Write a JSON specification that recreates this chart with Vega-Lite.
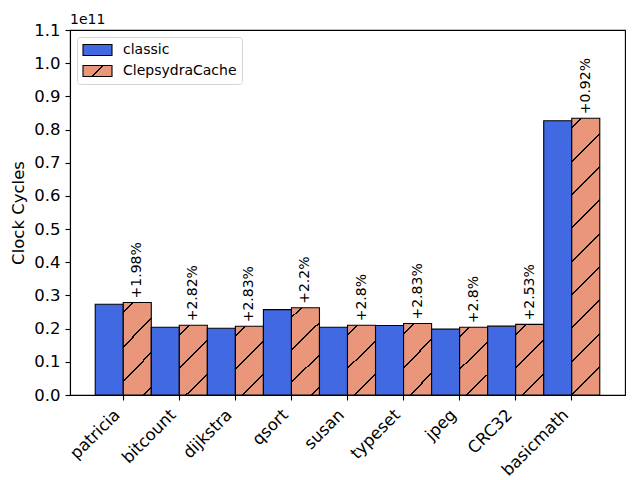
{
  "$schema": "https://vega.github.io/schema/vega-lite/v6.json",
  "width": 555,
  "height": 365,
  "autosize": {"type": "none"},
  "padding": {"left": 70, "top": 30, "right": 15, "bottom": 85},
  "background": "white",
  "config": {
    "font": "DejaVu Sans",
    "view": {"stroke": "black", "strokeWidth": 1.1},
    "axis": {
      "grid": false,
      "domainColor": "black",
      "domainWidth": 1.1,
      "tickColor": "black",
      "tickWidth": 1.1,
      "tickSize": 5,
      "labelColor": "black",
      "titleColor": "black",
      "labelFont": "DejaVu Sans",
      "titleFont": "DejaVu Sans",
      "labelFontSize": 16.5,
      "titleFontSize": 16.5,
      "titleFontWeight": "normal"
    }
  },
  "title": {
    "text": "1e11",
    "anchor": "start",
    "frame": "group",
    "font": "DejaVu Sans",
    "fontSize": 14,
    "fontWeight": "normal",
    "color": "black",
    "baseline": "alphabetic",
    "offset": 6,
    "dy": 22
  },
  "data": {
    "values": [
      {"benchmark": "patricia", "series": "classic", "cycles": 27350000000, "label": ""},
      {"benchmark": "patricia", "series": "ClepsydraCache", "cycles": 27890000000, "label": "+1.98%"},
      {"benchmark": "bitcount", "series": "classic", "cycles": 20430000000, "label": ""},
      {"benchmark": "bitcount", "series": "ClepsydraCache", "cycles": 21010000000, "label": "+2.82%"},
      {"benchmark": "dijkstra", "series": "classic", "cycles": 20130000000, "label": ""},
      {"benchmark": "dijkstra", "series": "ClepsydraCache", "cycles": 20700000000, "label": "+2.83%"},
      {"benchmark": "qsort", "series": "classic", "cycles": 25720000000, "label": ""},
      {"benchmark": "qsort", "series": "ClepsydraCache", "cycles": 26290000000, "label": "+2.2%"},
      {"benchmark": "susan", "series": "classic", "cycles": 20430000000, "label": ""},
      {"benchmark": "susan", "series": "ClepsydraCache", "cycles": 21000000000, "label": "+2.8%"},
      {"benchmark": "typeset", "series": "classic", "cycles": 20950000000, "label": ""},
      {"benchmark": "typeset", "series": "ClepsydraCache", "cycles": 21540000000, "label": "+2.83%"},
      {"benchmark": "jpeg", "series": "classic", "cycles": 19850000000, "label": ""},
      {"benchmark": "jpeg", "series": "ClepsydraCache", "cycles": 20410000000, "label": "+2.8%"},
      {"benchmark": "CRC32", "series": "classic", "cycles": 20750000000, "label": ""},
      {"benchmark": "CRC32", "series": "ClepsydraCache", "cycles": 21280000000, "label": "+2.53%"},
      {"benchmark": "basicmath", "series": "classic", "cycles": 82650000000, "label": ""},
      {"benchmark": "basicmath", "series": "ClepsydraCache", "cycles": 83410000000, "label": "+0.92%"}
    ]
  },
  "encoding": {
    "x": {
      "field": "benchmark",
      "type": "nominal",
      "sort": null,
      "scale": {"paddingInner": 0, "paddingOuter": 0.45},
      "axis": {
        "title": null,
        "labelAngle": -45,
        "labelAlign": "right",
        "labelBaseline": "middle",
        "labelPadding": 12,
        "labelOffset": -6
      }
    },
    "xOffset": {
      "field": "series",
      "type": "nominal",
      "sort": ["classic", "ClepsydraCache"],
      "scale": {"paddingInner": 0, "paddingOuter": 0}
    },
    "y": {
      "field": "cycles",
      "type": "quantitative",
      "scale": {"domain": [0, 110000000000], "nice": false},
      "axis": {
        "title": "Clock Cycles",
        "titlePadding": 7,
        "labelPadding": 5,
        "values": [0, 10000000000, 20000000000, 30000000000, 40000000000, 50000000000, 60000000000, 70000000000, 80000000000, 90000000000, 100000000000, 110000000000],
        "labelExpr": "format(datum.value / 1e11, '.1f')"
      }
    }
  },
  "layer": [
    {
      "mark": {"type": "bar", "stroke": "black", "strokeWidth": 1.1},
      "encoding": {
        "fill": {
          "condition": [
            {
              "test": "datum.series === 'ClepsydraCache' && datum.cycles > 50000000000",
              "value": {
                "gradient": "linear", "x1": 0, "y1": 0, "x2": 0.1102, "y2": 1.0899,
                "stops": [
                  {"offset": 0, "color": "#E9967A"},
                  {"offset": 0.0295, "color": "#E9967A"}, {"offset": 0.0295, "color": "black"}, {"offset": 0.0361, "color": "black"}, {"offset": 0.0361, "color": "#E9967A"},
                  {"offset": 0.1388, "color": "#E9967A"}, {"offset": 0.1388, "color": "black"}, {"offset": 0.1454, "color": "black"}, {"offset": 0.1454, "color": "#E9967A"},
                  {"offset": 0.2481, "color": "#E9967A"}, {"offset": 0.2481, "color": "black"}, {"offset": 0.2547, "color": "black"}, {"offset": 0.2547, "color": "#E9967A"},
                  {"offset": 0.3574, "color": "#E9967A"}, {"offset": 0.3574, "color": "black"}, {"offset": 0.3639, "color": "black"}, {"offset": 0.3639, "color": "#E9967A"},
                  {"offset": 0.4667, "color": "#E9967A"}, {"offset": 0.4667, "color": "black"}, {"offset": 0.4732, "color": "black"}, {"offset": 0.4732, "color": "#E9967A"},
                  {"offset": 0.5760, "color": "#E9967A"}, {"offset": 0.5760, "color": "black"}, {"offset": 0.5825, "color": "black"}, {"offset": 0.5825, "color": "#E9967A"},
                  {"offset": 0.6853, "color": "#E9967A"}, {"offset": 0.6853, "color": "black"}, {"offset": 0.6918, "color": "black"}, {"offset": 0.6918, "color": "#E9967A"},
                  {"offset": 0.7945, "color": "#E9967A"}, {"offset": 0.7945, "color": "black"}, {"offset": 0.8011, "color": "black"}, {"offset": 0.8011, "color": "#E9967A"},
                  {"offset": 0.9038, "color": "#E9967A"}, {"offset": 0.9038, "color": "black"}, {"offset": 0.9104, "color": "black"}, {"offset": 0.9104, "color": "#E9967A"},
                  {"offset": 1, "color": "#E9967A"}
                ]
              }
            },
            {
              "test": "datum.series === 'ClepsydraCache' && datum.cycles > 24000000000",
              "value": {
                "gradient": "linear", "x1": 0, "y1": 0, "x2": 0.3719, "y2": 1.1954,
                "stops": [
                  {"offset": 0, "color": "#E9967A"},
                  {"offset": 0.0763, "color": "#E9967A"}, {"offset": 0.0763, "color": "black"}, {"offset": 0.0932, "color": "black"}, {"offset": 0.0932, "color": "#E9967A"},
                  {"offset": 0.3587, "color": "#E9967A"}, {"offset": 0.3587, "color": "black"}, {"offset": 0.3757, "color": "black"}, {"offset": 0.3757, "color": "#E9967A"},
                  {"offset": 0.6413, "color": "#E9967A"}, {"offset": 0.6413, "color": "black"}, {"offset": 0.6582, "color": "black"}, {"offset": 0.6582, "color": "#E9967A"},
                  {"offset": 0.9237, "color": "#E9967A"}, {"offset": 0.9237, "color": "black"}, {"offset": 0.9407, "color": "black"}, {"offset": 0.9407, "color": "#E9967A"},
                  {"offset": 1, "color": "#E9967A"}
                ]
              }
            },
            {
              "test": "datum.series === 'ClepsydraCache'",
              "value": {
                "gradient": "linear", "x1": 0, "y1": 0, "x2": 0.4828, "y2": 1.2069,
                "stops": [
                  {"offset": 0, "color": "#E9967A"},
                  {"offset": 0.0918, "color": "#E9967A"}, {"offset": 0.0918, "color": "black"}, {"offset": 0.1122, "color": "black"}, {"offset": 0.1122, "color": "#E9967A"},
                  {"offset": 0.4320, "color": "#E9967A"}, {"offset": 0.4320, "color": "black"}, {"offset": 0.4524, "color": "black"}, {"offset": 0.4524, "color": "#E9967A"},
                  {"offset": 0.7721, "color": "#E9967A"}, {"offset": 0.7721, "color": "black"}, {"offset": 0.7925, "color": "black"}, {"offset": 0.7925, "color": "#E9967A"},
                  {"offset": 1, "color": "#E9967A"}
                ]
              }
            }
          ],
          "field": "series",
          "type": "nominal",
          "sort": ["classic", "ClepsydraCache"],
          "scale": {"domain": ["classic", "ClepsydraCache"], "range": ["#4169E1", "#E9967A"]},
          "legend": null
        },
        "opacity": {
          "field": "series",
          "type": "nominal",
          "sort": ["classic", "ClepsydraCache"],
          "scale": {"range": [1, 1]},
          "legend": {
            "title": null,
            "orient": "none",
            "legendX": 7,
            "legendY": 7,
            "padding": 5,
            "clipHeight": 16,
            "rowPadding": 5,
            "labelFont": "DejaVu Sans",
            "labelFontSize": 14,
            "labelColor": "black",
            "labelOffset": 10,
            "symbolType": "M-1,-0.38H1V0.38H-1Z",
            "symbolSize": 841,
            "symbolStrokeColor": "black",
            "symbolStrokeWidth": 1.1,
            "strokeColor": "#d5d5d5",
            "fillColor": "white",
            "cornerRadius": 3,
            "encoding": {
              "symbols": {
                "fill": {
                  "condition": {
                    "test": "datum.value === 'ClepsydraCache'",
                    "value": {
                      "gradient": "linear", "x1": 0, "y1": 0, "x2": 1.2058, "y2": 0.4574,
                      "stops": [
                        {"offset": 0, "color": "#E9967A"},
                        {"offset": 0.475, "color": "#E9967A"}, {"offset": 0.475, "color": "black"}, {"offset": 0.525, "color": "black"}, {"offset": 0.525, "color": "#E9967A"},
                        {"offset": 1, "color": "#E9967A"}
                      ]
                    }
                  },
                  "value": "#4169E1"
                },
                "stroke": {"value": "black"},
                "opacity": {"value": 1}
              }
            }
          }
        }
      }
    },
    {
      "transform": [{"filter": "datum.label !== ''"}],
      "mark": {
        "type": "text",
        "angle": 270,
        "align": "left",
        "baseline": "middle",
        "dx": 4,
        "font": "DejaVu Sans",
        "fontSize": 14,
        "color": "black"
      },
      "encoding": {
        "text": {"field": "label", "type": "nominal"}
      }
    }
  ]
}
